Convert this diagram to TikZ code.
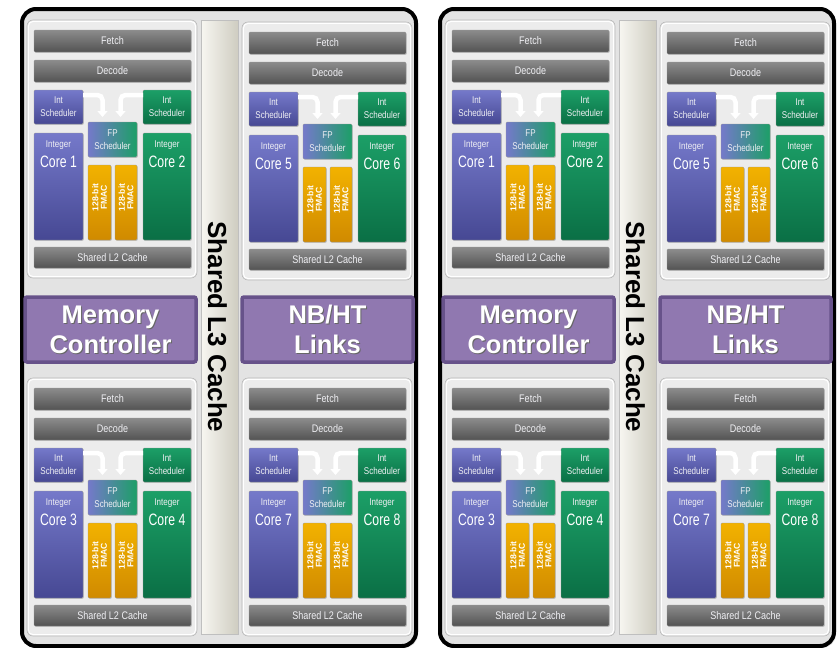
\documentclass[tikz,border=0pt]{standalone}
\usepackage{fontspec}
\setmainfont{Liberation Sans}
\newfontfamily\narrowfont[FakeStretch=0.82]{Liberation Sans}
\newfontfamily\tightfont[FakeStretch=0.74]{Liberation Sans}
\usetikzlibrary{shadows,arrows.meta}

\definecolor{diefill}{HTML}{E3E3E3}
\definecolor{modfill}{HTML}{ECECEC}
\definecolor{barhi}{HTML}{8C8C8C}
\definecolor{barlo}{HTML}{535353}
\definecolor{bluehi}{HTML}{7579CA}
\definecolor{bluelo}{HTML}{464893}
\definecolor{greenhi}{HTML}{1C9F67}
\definecolor{greenlo}{HTML}{0A6F45}
\definecolor{fmachi}{HTML}{F2B200}
\definecolor{fmaclo}{HTML}{D08A00}
\definecolor{ctlfill}{HTML}{9078B0}
\definecolor{ctledge}{HTML}{67528A}
\definecolor{lthreehi}{HTML}{F7F6F1}
\definecolor{lthreemid}{HTML}{EAE8DD}
\definecolor{lthreelo}{HTML}{CFCDC1}
\definecolor{softtext}{HTML}{F0F0F4}

\tikzset{
  blk/.style={anchor=north west, inner sep=0pt, outer sep=0pt,
    rounded corners=1.2pt, draw=black!40, line width=0.4pt,
    drop shadow={shadow xshift=0.9pt, shadow yshift=-0.9pt, opacity=0.35}},
  bar/.style={blk, top color=barhi, bottom color=barlo, text=softtext,
    font=\narrowfont\fontsize{11}{12}\selectfont},
  bluebox/.style={blk, top color=bluehi, bottom color=bluelo, text=softtext,
    align=center, font=\narrowfont\fontsize{9.8}{13}\selectfont},
  greenbox/.style={blk, top color=greenhi, bottom color=greenlo, text=softtext,
    align=center, font=\narrowfont\fontsize{9.8}{13}\selectfont},
  fpbox/.style={blk, left color=bluehi, right color=greenhi, text=softtext,
    align=center, font=\narrowfont\fontsize{9.8}{13}\selectfont},
  fmacbox/.style={blk, top color=fmachi, bottom color=fmaclo},
  fmactxt/.style={rotate=90, text=white, align=center, inner sep=0pt,
    font=\bfseries\fontsize{8.6}{8.4}\selectfont},
  smalltxt/.style={text=softtext, inner sep=0pt,
    font=\narrowfont\fontsize{9.8}{10}\selectfont},
  coretxt/.style={text=white, inner sep=0pt,
    font=\tightfont\fontsize{16.5}{17}\selectfont},
  modbox/.style={anchor=north west, inner sep=0pt, outer sep=0pt,
    minimum width=170pt, minimum height=258pt, rounded corners=6pt,
    fill=modfill, draw=black!28, line width=0.6pt},
  modrim/.style={draw=white, line width=1pt, rounded corners=5pt},
  diebox/.style={anchor=north west, inner sep=0pt, outer sep=0pt,
    minimum width=394pt, minimum height=637pt, rounded corners=14pt,
    fill=diefill, draw=black, line width=4pt,
    drop shadow={shadow xshift=2pt, shadow yshift=-2pt, opacity=0.25}},
  lthreebar/.style={anchor=north west, inner sep=0pt, outer sep=0pt,
    minimum width=37pt, minimum height=614pt, draw=black!25, line width=0.4pt,
    left color=lthreehi, middle color=lthreemid, right color=lthreelo},
  lthreetxt/.style={rotate=-90, inner sep=0pt, text=black,
    font=\bfseries\fontsize{26}{27}\selectfont},
  ctlbox/.style={anchor=north west, inner sep=0pt, outer sep=0pt,
    minimum width=171pt, minimum height=65pt, rounded corners=2pt,
    fill=ctlfill, draw=ctledge, line width=3.5pt},
  bigtxt/.style={align=center, inner sep=0pt, text=white,
    font=\bfseries\fontsize{25.5}{30}\selectfont},
  bigshadow/.style={bigtxt, text=black!60},
  flowarrow/.style={draw=white, line width=4.5pt, rounded corners=5pt,
    -{Triangle[width=10pt,length=6pt]}},
}

% One dual-core module: origin x, origin y, name prefix, first and second core number
\newcommand\cpumodule[5]{%
\begin{scope}[shift={(#1,#2)}]
  \node[modbox] (#3m) at (0,0) {};
  \draw[modrim] ([shift={(1.3pt,-1.3pt)}]#3m.north west) rectangle ([shift={(-1.3pt,1.3pt)}]#3m.south east);
  \node[bar, minimum width=157pt, minimum height=22pt] (#3f) at (7,10) {Fetch};
  \node[bar, minimum width=157pt, minimum height=22pt] (#3d) at (7,40) {Decode};
  \node[bluebox, minimum width=49pt, minimum height=34pt] (#3sa) at (7,70) {Int\\Scheduler};
  \node[greenbox, minimum width=48pt, minimum height=34pt] (#3sb) at (116,70) {Int\\Scheduler};
  \node[bluebox, minimum width=49pt, minimum height=107pt] (#3ca) at (7,113) {};
  \node[greenbox, minimum width=48pt, minimum height=107pt] (#3cb) at (116,113) {};
  \node[fmacbox, minimum width=23pt, minimum height=75pt] (#3ua) at (61,145) {};
  \node[fmacbox, minimum width=22pt, minimum height=75pt] (#3ub) at (88,145) {};
  \node[fpbox, minimum width=49pt, minimum height=35pt] (#3fp) at (61,102) {FP\\Scheduler};
  \node[bar, minimum width=157pt, minimum height=21pt] (#3l) at (7,227) {Shared L2 Cache};
  % core captions
  \node[smalltxt] (#3ia) at ([yshift=-12pt]#3ca.north) {Integer};
  \node[coretxt] (#3na) at ([yshift=-29pt]#3ca.north) {Core #4};
  \node[smalltxt] (#3ib) at ([yshift=-12pt]#3cb.north) {Integer};
  \node[coretxt] (#3nb) at ([yshift=-29pt]#3cb.north) {Core #5};
  % FMAC captions
  \node[fmactxt] (#3ta) at ([yshift=5pt]#3ua.center) {128-bit\\FMAC};
  \node[fmactxt] (#3tb) at ([yshift=5pt]#3ub.center) {128-bit\\FMAC};
  % schedulers feeding the shared FP scheduler
  \draw[flowarrow] ([yshift=-5pt]#3sa.north east) -| ([xshift=-10pt,yshift=5pt]#3fp.north);
  \draw[flowarrow] ([yshift=-5pt]#3sb.north west) -| ([xshift=8pt,yshift=5pt]#3fp.north);
\end{scope}}

% One die: x offset, name prefix
\newcommand\cpudie[2]{%
\begin{scope}[shift={(#1,0)}]
  \node[diebox] (#2die) at (22,9) {};
  \node[lthreebar] (#2l3) at (201,20) {};
  \node[lthreetxt] (#2l3t) at ([xshift=-2pt]#2l3.center) {Shared L3 Cache};
  \node[ctlbox] (#2mc) at (25,297) {};
  \node[bigshadow] (#2mcs) at ([shift={(1pt,-1.2pt)}]#2mc.center) {Memory\\Controller};
  \node[bigtxt] (#2mct) at (#2mc.center) {Memory\\Controller};
  \node[ctlbox] (#2nb) at (242,297) {};
  \node[bigshadow] (#2nbs) at ([shift={(1pt,-1.2pt)}]#2nb.center) {NB/HT\\Links};
  \node[bigtxt] (#2nbt) at (#2nb.center) {NB/HT\\Links};
  \cpumodule{27}{20}{#2a}{1}{2}
  \cpumodule{242}{22}{#2b}{5}{6}
  \cpumodule{27}{378}{#2c}{3}{4}
  \cpumodule{242}{378}{#2d}{7}{8}
\end{scope}}

\begin{document}
\begin{tikzpicture}[x=1pt,y=-1pt]
  \useasboundingbox (0,0) rectangle (839,648);
  \fill[white] (0,0) rectangle (839,648);
  \cpudie{0}{L}
  \cpudie{418}{R}
\end{tikzpicture}
\end{document}
